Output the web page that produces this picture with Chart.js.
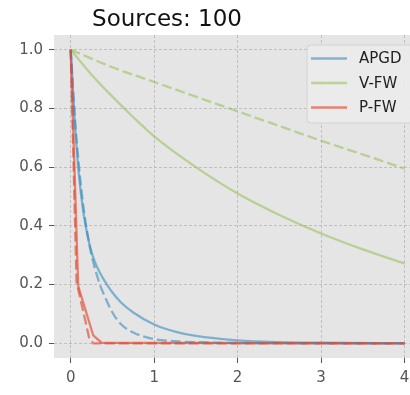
<!DOCTYPE html>
<html><head><meta charset="utf-8">
<script src="https://cdn.jsdelivr.net/npm/chart.js@4/dist/chart.umd.min.js"></script>
<style>html,body{margin:0;padding:0;background:#fff;overflow:hidden}</style>
</head><body>
<canvas id="c" width="410" height="395"></canvas>
<script>
const chartTitle = 'Sources: 100';
const seriesNames = ['APGD', 'V-FW', 'P-FW'];
const xTicks = [0, 1, 2, 3, 4];
const yTicks = [0, 0.2, 0.4, 0.6, 0.8, 1.0];

// APGD
const apgdX = [0, 0.05, 0.1, 0.15, 0.2, 0.25, 0.3, 0.35, 0.4, 0.45, 0.5, 0.6, 0.75, 1.0, 1.25, 1.5, 2.0, 2.5, 3.0, 4.0];
const apgdY = [1.0, 0.75, 0.57, 0.45, 0.37, 0.31, 0.27, 0.24, 0.215, 0.193, 0.173, 0.14, 0.105, 0.064, 0.04, 0.025, 0.01, 0.004, 0.002, 0.0005];
const apgdDashX = [0, 0.05, 0.1, 0.15, 0.2, 0.25, 0.3, 0.35, 0.4, 0.5, 0.6, 0.75, 1.0, 1.25, 1.5, 2.0, 4.0];
const apgdDashY = [1.0, 0.77, 0.6, 0.47, 0.375, 0.30, 0.245, 0.2, 0.165, 0.105, 0.066, 0.037, 0.014, 0.007, 0.004, 0.001, 0.0];
// V-FW
const vfwX = [0, 0.25, 0.5, 0.75, 1, 1.5, 2, 2.5, 3, 3.5, 4];
const vfwY = [1.0, 0.915, 0.84, 0.77, 0.705, 0.6, 0.51, 0.437, 0.374, 0.32, 0.272];
const vfwDashX = [0, 0.5, 1, 1.5, 2, 2.5, 3, 3.5, 4];
const vfwDashY = [1.0, 0.94, 0.89, 0.84, 0.79, 0.74, 0.69, 0.643, 0.595];
// P-FW
const pfwX = [0, 0.09, 0.27, 0.37, 4];
const pfwY = [1.0, 0.195, 0.027, 0.002, 0.0];
const pfwDashX = [0, 0.07, 0.22, 0.27, 4];
const pfwDashY = [1.0, 0.21, 0.02, 0.0, 0.0];

const colors = ['rgba(52,138,189,0.58)', 'rgba(142,186,66,0.5)', 'rgba(226,74,51,0.65)'];

const pts = (xs, ys) => xs.map((x, i) => ({x: x, y: ys[i]}));

// draw order: solids first, then dashed (last drawn on top)
const drawList = [
  {label: seriesNames[0], data: pts(apgdX, apgdY), c: 0, dash: false, smooth: true},
  {label: seriesNames[1], data: pts(vfwX, vfwY), c: 1, dash: false, smooth: true},
  {label: seriesNames[2], data: pts(pfwX, pfwY), c: 2, dash: false, smooth: false},
  {label: seriesNames[0] + ' (dashed)', data: pts(apgdDashX, apgdDashY), c: 0, dash: true, smooth: true},
  {label: seriesNames[1] + ' (dashed)', data: pts(vfwDashX, vfwDashY), c: 1, dash: true, smooth: true},
  {label: seriesNames[2] + ' (dashed)', data: pts(pfwDashX, pfwDashY), c: 2, dash: true, smooth: false}
];

const datasets = drawList.map((d, i) => ({
  label: d.label,
  data: d.data,
  borderColor: colors[d.c],
  backgroundColor: colors[d.c],
  borderWidth: 2.3,
  borderDash: d.dash ? [10, 4] : [],
  pointRadius: 0,
  fill: false,
  tension: 0,
  cubicInterpolationMode: d.smooth ? 'monotone' : 'default',
  order: drawList.length - i,
  inLegend: !d.dash
}));

Chart.defaults.font.family = '"DejaVu Sans", sans-serif';

const bgPlugin = {
  id: 'bg',
  beforeDraw(chart) {
    const a = chart.chartArea, ctx = chart.ctx;
    ctx.save();
    ctx.fillStyle = '#E5E5E5';
    ctx.fillRect(a.left, a.top, a.right - a.left, a.bottom - a.top);
    ctx.restore();
  }
};

const overlayPlugin = {
  id: 'overlay',
  afterDraw(chart) {
    const ctx = chart.ctx, a = chart.chartArea;
    ctx.save();
    ctx.font = '23px "DejaVu Sans"';
    ctx.fillStyle = '#111';
    ctx.textAlign = 'center';
    ctx.textBaseline = 'alphabetic';
    ctx.fillText(chartTitle, 167, 26);

    // legend
    const bx = a.right - 103, by = a.top + 10, bw = 110, bh = 78;
    ctx.beginPath();
    if (ctx.roundRect) ctx.roundRect(bx, by, bw, bh, 4); else ctx.rect(bx, by, bw, bh);
    ctx.fillStyle = 'rgba(236,236,236,0.92)';
    ctx.fill();
    ctx.strokeStyle = '#d2d2d2';
    ctx.lineWidth = 1;
    ctx.stroke();
    const items = chart.data.datasets.filter(d => d.inLegend);
    ctx.font = '15px "DejaVu Sans"';
    ctx.textAlign = 'left';
    ctx.textBaseline = 'middle';
    items.forEach((d, i) => {
      const y = by + 13.5 + 24.5 * i;
      ctx.beginPath();
      ctx.moveTo(bx + 4, y);
      ctx.lineTo(bx + 40, y);
      ctx.strokeStyle = d.borderColor;
      ctx.lineWidth = 2.4;
      ctx.stroke();
      ctx.fillStyle = '#222';
      ctx.fillText(d.label, bx + 52, y + 1);
    });
    ctx.restore();
  }
};

const gridOpts = {color: 'rgba(185,185,185,0.85)', lineWidth: 1, drawTicks: true, tickLength: 5, tickColor: '#555', tickWidth: 1, tickBorderDash: []};

new Chart(document.getElementById('c'), {
  type: 'line',
  data: {datasets: datasets},
  plugins: [bgPlugin, overlayPlugin],
  options: {
    responsive: false,
    animation: false,
    layout: {padding: {top: 35, left: 0, right: 0, bottom: 0}},
    plugins: {legend: {display: false}, title: {display: false}, tooltip: {enabled: false}},
    scales: {
      x: {
        type: 'linear',
        min: -0.2,
        max: 4.065,
        afterBuildTicks: s => { s.ticks = xTicks.map(v => ({value: v})); },
        afterFit: s => { s.height = 37; s.paddingLeft = 0; s.paddingRight = 0; },
        ticks: {color: '#555', font: {size: 15}, padding: 6, callback: v => String(v), maxRotation: 0},
        grid: gridOpts,
        border: {display: false, dash: [3, 2]}
      },
      y: {
        type: 'linear',
        min: -0.05,
        max: 1.05,
        afterBuildTicks: s => { s.ticks = yTicks.map(v => ({value: v})); },
        afterFit: s => { s.width = 54; s.paddingTop = 0; s.paddingBottom = 0; },
        ticks: {color: '#555', font: {size: 15}, padding: 6, callback: v => v.toFixed(1)},
        grid: gridOpts,
        border: {display: false, dash: [3, 2]}
      }
    }
  }
});
</script>
</body></html>
